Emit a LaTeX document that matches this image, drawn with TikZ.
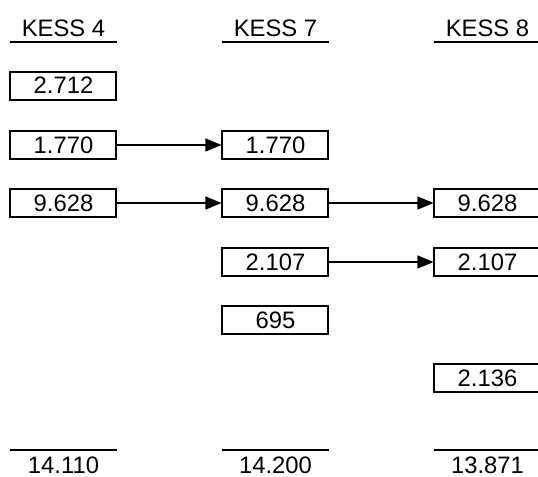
\documentclass[tikz,border=0pt]{standalone}
\usepackage{fontspec}
\setmainfont{Liberation Sans}
\usetikzlibrary{arrows.meta}
\tikzset{
  numbox/.style={draw, line width=1pt, minimum width=53pt, minimum height=14pt, inner sep=0pt},
  head/.style={minimum width=53.5pt, inner xsep=0pt, inner ysep=2.5pt, anchor=south},
  total/.style={minimum width=53.5pt, inner xsep=0pt, inner ysep=3pt, anchor=north},
  rule/.style={line width=1pt},
  flow/.style={line width=0.6pt, -{Triangle[length=8pt, width=6.5pt]}}
}

\begin{document}
\begin{tikzpicture}[x=0.5pt, y=-0.5pt, font=\fontsize{11.9}{14}\selectfont]
  \clip (0,0) rectangle (538,477);
  % Headers
  \node[head] (h4) at (63.5,42) {KESS 4};
  \node[head] (h7) at (275.5,42) {KESS 7};
  \node[head] (h8) at (487.5,42) {KESS 8};
  \draw[rule] (h4.south west) -- (h4.south east);
  \draw[rule] (h7.south west) -- (h7.south east);
  \draw[rule] (h8.south west) -- (h8.south east);
  % KESS 4
  \node[numbox] (a1) at (63.5,85.5) {2.712};
  \node[numbox] (a2) at (63.5,145) {1.770};
  \node[numbox] (a3) at (63.5,203) {9.628};
  % KESS 7
  \node[numbox] (b2) at (275.5,145) {1.770};
  \node[numbox] (b3) at (275.5,203) {9.628};
  \node[numbox] (b4) at (275.5,262) {2.107};
  \node[numbox] (b5) at (275.5,320) {695};
  % KESS 8
  \node[numbox] (c3) at (487.5,203) {9.628};
  \node[numbox] (c4) at (487.5,262) {2.107};
  \node[numbox] (c6) at (487.5,378.5) {2.136};
  % Transfers
  \draw[flow] (a2.east) -- (b2.west);
  \draw[flow] (a3.east) -- (b3.west);
  \draw[flow] (b3.east) -- (c3.west);
  \draw[flow] (b4.east) -- (c4.west);
  % Totals
  \node[total] (t4) at (63.5,450) {14.110};
  \node[total] (t7) at (275.5,450) {14.200};
  \node[total] (t8) at (487.5,450) {13.871};
  \draw[rule] (t4.north west) -- (t4.north east);
  \draw[rule] (t7.north west) -- (t7.north east);
  \draw[rule] (t8.north west) -- (t8.north east);
\end{tikzpicture}
\end{document}
